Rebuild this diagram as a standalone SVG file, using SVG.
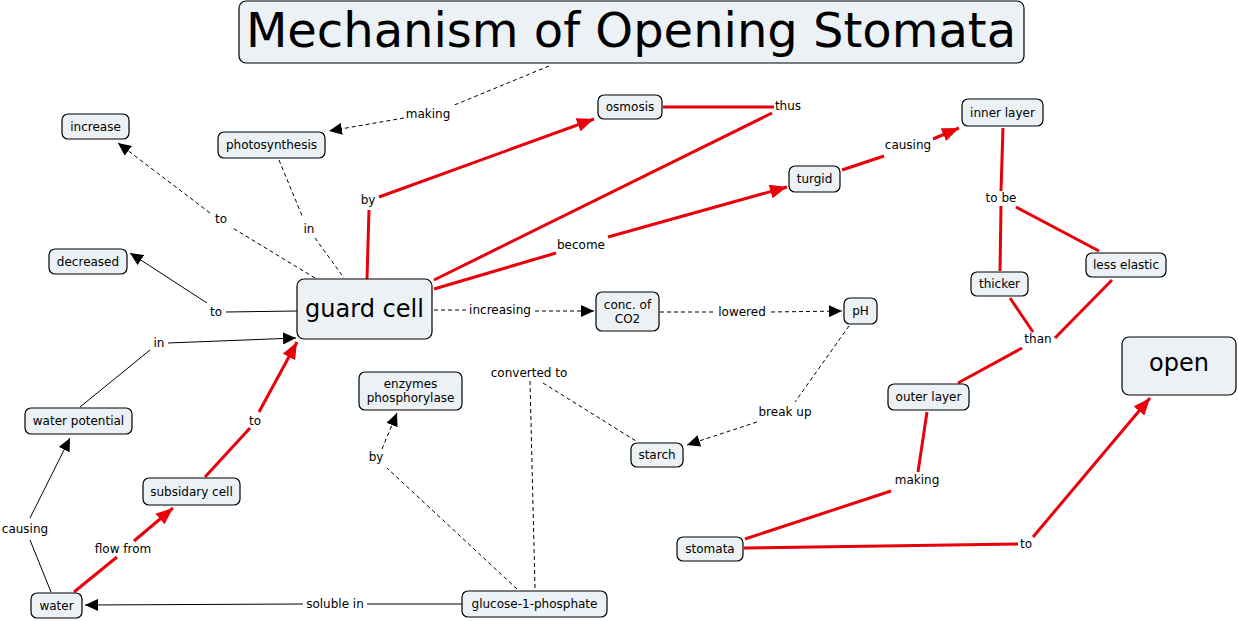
<svg xmlns="http://www.w3.org/2000/svg" width="1238" height="621" viewBox="0 0 1238 621">
<style>
.node rect{fill:#ebf1f4;stroke:#000;stroke-width:1.2}
text{font-family:"DejaVu Sans","Liberation Sans",sans-serif;fill:#000;text-anchor:middle}
.t{font-size:12px}
.big{font-size:24px}
.lbl{font-size:12px}
.red{stroke:#e8000b;stroke-width:3;fill:none}
.blk{stroke:#000;stroke-width:1;fill:none}
.dsh{stroke:#000;stroke-width:1;fill:none;stroke-dasharray:4 3}
</style>
<defs>
<marker id="ab" markerUnits="userSpaceOnUse" markerWidth="14" markerHeight="12" viewBox="0 0 14 12" refX="13" refY="6" orient="auto"><path d="M0,0 L13,6 L0,12 z" fill="#000"/></marker>
<marker id="ar" markerUnits="userSpaceOnUse" markerWidth="18" markerHeight="14" viewBox="0 0 18 14" refX="17" refY="7" orient="auto"><path d="M0,0 L17,7 L0,14 z" fill="#e8000b"/></marker>
</defs>
<g id="connectors">
<path class="dsh" d="M549,66 L452,106"/>
<path class="dsh" d="M404,118 L329,131" marker-end="url(#ab)"/>
<path class="dsh" d="M315,278 L231,227"/>
<path class="dsh" d="M210,213 L118,143" marker-end="url(#ab)"/>
<path class="dsh" d="M279,160 L303,218"/>
<path class="dsh" d="M315,238 L344,278"/>
<path class="blk" d="M297,311 L226,312"/>
<path class="blk" d="M207,303 L130,253" marker-end="url(#ab)"/>
<path class="blk" d="M80,407 L150,350"/>
<path class="blk" d="M168,343 L296,338" marker-end="url(#ab)"/>
<path class="blk" d="M51,592 L30,540"/>
<path class="blk" d="M30,518 L70,438" marker-end="url(#ab)"/>
<path class="red" d="M74,592 L117,557"/>
<path class="red" d="M134,541 L173,508" marker-end="url(#ar)"/>
<path class="red" d="M205,477 L250,428"/>
<path class="red" d="M259,412 L297,342" marker-end="url(#ar)"/>
<path class="blk" d="M462,604 L367,604"/>
<path class="blk" d="M303,604 L85,605" marker-end="url(#ab)"/>
<path class="dsh" d="M517,589 L387,468"/>
<path class="dsh" d="M382,449 L397,413" marker-end="url(#ab)"/>
<path class="dsh" d="M535,588 L530,381"/>
<path class="dsh" d="M543,383 L636,441"/>
<path class="dsh" d="M849,326 L795,402"/>
<path class="dsh" d="M757,422 L687,445" marker-end="url(#ab)"/>
<path class="dsh" d="M434,310 L466,310"/>
<path class="dsh" d="M535,311 L594,311" marker-end="url(#ab)"/>
<path class="dsh" d="M660,312 L714,312"/>
<path class="dsh" d="M771,312 L842,311" marker-end="url(#ab)"/>
<path class="red" d="M367,279 L369,210"/>
<path class="red" d="M379,197 L594,119" marker-end="url(#ar)"/>
<path class="red" d="M663,107 L774,107"/>
<path class="red" d="M772,113 L434,280"/>
<path class="red" d="M434,289 L556,253"/>
<path class="red" d="M608,237 L787,187" marker-end="url(#ar)"/>
<path class="red" d="M842,170 L884,156"/>
<path class="red" d="M933,139 L959,128" marker-end="url(#ar)"/>
<path class="red" d="M1003,128 L1001,191"/>
<path class="red" d="M1001,206 L1000,271"/>
<path class="red" d="M1016,207 L1099,251"/>
<path class="red" d="M1010,298 L1033,332"/>
<path class="red" d="M1112,280 L1055,338"/>
<path class="red" d="M1022,348 L958,383"/>
<path class="red" d="M927,412 L918,472"/>
<path class="red" d="M891,491 L745,539"/>
<path class="red" d="M744,548 L1018,544"/>
<path class="red" d="M1033,537 L1150,398" marker-end="url(#ar)"/>
</g>
<g id="labels">
<text class="lbl" x="428" y="118">making</text>
<text class="lbl" x="221" y="223">to</text>
<text class="lbl" x="309" y="233">in</text>
<text class="lbl" x="216" y="316">to</text>
<text class="lbl" x="159" y="347">in</text>
<text class="lbl" x="25" y="533">causing</text>
<text class="lbl" x="123" y="553">flow from</text>
<text class="lbl" x="255" y="425">to</text>
<text class="lbl" x="335" y="608">soluble in</text>
<text class="lbl" x="376" y="461">by</text>
<text class="lbl" x="529" y="377">converted to</text>
<text class="lbl" x="785" y="416">break up</text>
<text class="lbl" x="500" y="314">increasing</text>
<text class="lbl" x="742" y="316">lowered</text>
<text class="lbl" x="368" y="204">by</text>
<text class="lbl" x="788" y="110">thus</text>
<text class="lbl" x="581" y="249">become</text>
<text class="lbl" x="908" y="149">causing</text>
<text class="lbl" x="1001" y="202">to be</text>
<text class="lbl" x="1038" y="343">than</text>
<text class="lbl" x="917" y="484">making</text>
<text class="lbl" x="1026" y="548">to</text>
</g>
<g id="title" class="node"><rect x="239" y="1" width="785" height="62" rx="7"/><text x="631" y="47" style="font-size:48px">Mechanism of Opening Stomata</text></g>
<g id="increase" class="node"><rect x="62" y="114" width="67" height="25" rx="6"/><text class="t" x="95.5" y="131">increase</text></g>
<g id="photosynthesis" class="node"><rect x="218" y="132" width="107" height="26" rx="6"/><text class="t" x="271.5" y="149">photosynthesis</text></g>
<g id="decreased" class="node"><rect x="49" y="249" width="78" height="25" rx="6"/><text class="t" x="88" y="266">decreased</text></g>
<g id="guard-cell" class="node"><rect x="297" y="279" width="135" height="60" rx="7"/><text class="big" x="364.5" y="317">guard cell</text></g>
<g id="water-potential" class="node"><rect x="25" y="408" width="107" height="26" rx="6"/><text class="t" x="78.5" y="425">water potential</text></g>
<g id="subsidary-cell" class="node"><rect x="143" y="478" width="97" height="27" rx="6"/><text class="t" x="191.5" y="496">subsidary cell</text></g>
<g id="water" class="node"><rect x="31" y="593" width="51" height="25" rx="6"/><text class="t" x="56.5" y="610">water</text></g>
<g id="enzymes" class="node"><rect x="359" y="372" width="103" height="38" rx="6"/><text class="t" x="410.5" y="388">enzymes</text><text class="t" x="410.5" y="402">phosphorylase</text></g>
<g id="glucose" class="node"><rect x="462" y="591" width="145" height="26" rx="6"/><text class="t" x="534.5" y="608">glucose-1-phosphate</text></g>
<g id="osmosis" class="node"><rect x="598" y="95" width="64" height="24" rx="6"/><text class="t" x="630" y="111">osmosis</text></g>
<g id="turgid" class="node"><rect x="789" y="166" width="51" height="26" rx="6"/><text class="t" x="814.5" y="183">turgid</text></g>
<g id="conc-co2" class="node"><rect x="596" y="292" width="63" height="39" rx="6"/><text class="t" x="627.5" y="309">conc. of</text><text class="t" x="627.5" y="323">CO2</text></g>
<g id="ph" class="node"><rect x="844" y="298" width="33" height="26" rx="6"/><text class="t" x="860.5" y="315">pH</text></g>
<g id="starch" class="node"><rect x="631" y="443" width="52" height="24" rx="6"/><text class="t" x="657" y="459">starch</text></g>
<g id="inner-layer" class="node"><rect x="962" y="99" width="81" height="27" rx="6"/><text class="t" x="1002.5" y="117">inner layer</text></g>
<g id="less-elastic" class="node"><rect x="1086" y="253" width="80" height="24" rx="6"/><text class="t" x="1126" y="269">less elastic</text></g>
<g id="thicker" class="node"><rect x="971" y="272" width="57" height="24" rx="6"/><text class="t" x="999.5" y="288">thicker</text></g>
<g id="outer-layer" class="node"><rect x="888" y="384" width="81" height="26" rx="6"/><text class="t" x="928.5" y="401">outer layer</text></g>
<g id="open" class="node"><rect x="1122" y="337" width="114" height="58" rx="7"/><text class="big" x="1179" y="371">open</text></g>
<g id="stomata" class="node"><rect x="677" y="537" width="66" height="24" rx="6"/><text class="t" x="710" y="553">stomata</text></g>
</svg>
